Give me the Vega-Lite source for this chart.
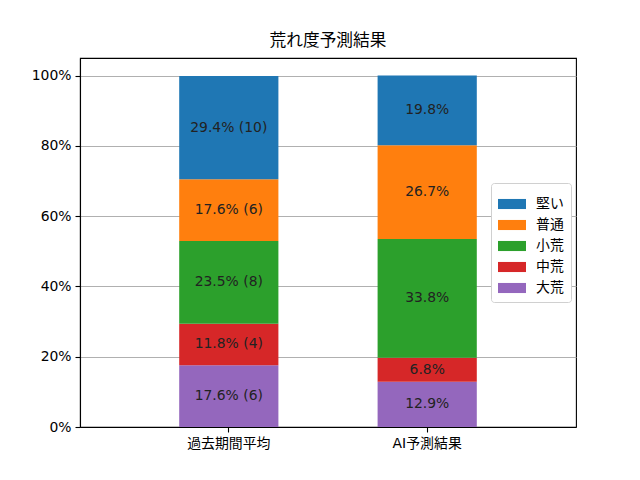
{
  "$schema": "https://vega.github.io/schema/vega-lite/v6.json",
  "width": 496,
  "height": 369,
  "autosize": "none",
  "padding": {"left": 80, "top": 58, "right": 64, "bottom": 53},
  "background": "white",
  "title": {"text": "荒れ度予測結果", "fontSize": 16.7, "fontWeight": "normal", "font": "DejaVu Sans, Noto Sans CJK JP", "color": "black", "offset": 8},
  "config": {
    "font": "DejaVu Sans, Noto Sans CJK JP",
    "view": {"stroke": "black", "strokeWidth": 1.1},
    "axis": {
      "labelFont": "DejaVu Sans, Noto Sans CJK JP",
      "labelFontSize": 13.9,
      "labelColor": "black",
      "domainColor": "black",
      "domainWidth": 1.1,
      "tickColor": "black",
      "tickWidth": 1.1,
      "tickSize": 5,
      "labelPadding": 4
    }
  },
  "data": {
    "values": [
      {"period": "過去期間平均", "kind": "大荒", "rank": 1, "value": 17.6, "label": "17.6% (6)"},
      {"period": "過去期間平均", "kind": "中荒", "rank": 2, "value": 11.8, "label": "11.8% (4)"},
      {"period": "過去期間平均", "kind": "小荒", "rank": 3, "value": 23.5, "label": "23.5% (8)"},
      {"period": "過去期間平均", "kind": "普通", "rank": 4, "value": 17.6, "label": "17.6% (6)"},
      {"period": "過去期間平均", "kind": "堅い", "rank": 5, "value": 29.4, "label": "29.4% (10)"},
      {"period": "AI予測結果", "kind": "大荒", "rank": 1, "value": 12.9, "label": "12.9%"},
      {"period": "AI予測結果", "kind": "中荒", "rank": 2, "value": 6.8, "label": "6.8%"},
      {"period": "AI予測結果", "kind": "小荒", "rank": 3, "value": 33.8, "label": "33.8%"},
      {"period": "AI予測結果", "kind": "普通", "rank": 4, "value": 26.7, "label": "26.7%"},
      {"period": "AI予測結果", "kind": "堅い", "rank": 5, "value": 19.8, "label": "19.8%"}
    ]
  },
  "transform": [
    {"stack": "value", "groupby": ["period"], "sort": [{"field": "rank", "order": "ascending"}], "as": ["v0", "v1"]},
    {"calculate": "(datum.v0 + datum.v1) / 2", "as": "mid"}
  ],
  "encoding": {
    "x": {
      "field": "period",
      "type": "nominal",
      "sort": ["過去期間平均", "AI予測結果"],
      "title": null,
      "scale": {"paddingInner": 0.5, "paddingOuter": 0.5},
      "axis": {"labelAngle": 0, "grid": false}
    }
  },
  "layer": [
    {
      "mark": {"type": "bar"},
      "encoding": {
        "y": {
          "field": "v0",
          "type": "quantitative",
          "title": null,
          "scale": {"domain": [0, 105], "nice": false},
          "axis": {
            "values": [0, 20, 40, 60, 80, 100],
            "labelExpr": "datum.value + '%'",
            "grid": true,
            "gridColor": "#b0b0b0",
            "gridWidth": 1.1
          }
        },
        "y2": {"field": "v1"},
        "color": {
          "field": "kind",
          "type": "nominal",
          "title": null,
          "scale": {
            "domain": ["堅い", "普通", "小荒", "中荒", "大荒"],
            "range": ["#1f77b4", "#ff7f0e", "#2ca02c", "#d62728", "#9467bd"]
          },
          "legend": {
            "orient": "none",
            "legendX": 411,
            "legendY": 125,
            "symbolType": "M-1,-0.36H1V0.36H-1Z",
            "symbolSize": 784,
            "symbolStrokeWidth": 0,
            "labelFontSize": 13.9,
            "labelColor": "black",
            "labelOffset": 10,
            "rowPadding": 0,
            "padding": 7,
            "strokeColor": "#d0d0d0",
            "cornerRadius": 3,
            "fillColor": "white"
          }
        }
      }
    },
    {
      "mark": {"type": "text", "fontSize": 13.9, "color": "#222222", "baseline": "middle", "align": "center"},
      "encoding": {
        "y": {"field": "mid", "type": "quantitative"},
        "text": {"field": "label", "type": "nominal"}
      }
    }
  ]
}
